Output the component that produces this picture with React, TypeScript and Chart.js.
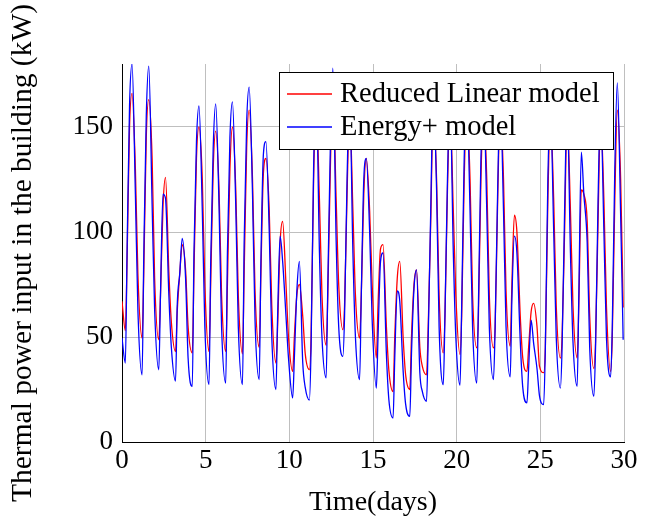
import React, { useEffect, useRef } from "react";
import { Chart, registerables } from "chart.js";

Chart.register(...registerables);

// Sample positions within each day (fraction of the day)
const dayOffsets = [0.2, 0.3, 0.45, 0.6, 0.8, 0.95];
const xTicks = [0, 5, 10, 15, 20, 25, 30];
const yTicks = [0, 50, 100, 150];

const seriesLabels = ["Reduced Linear model", "Energy+ model"];

// Value at t = 0
const reducedStart = 67;
const energyStart = 49.5;

// Reduced Linear model (kW), one row per day, samples at dayOffsets
const reducedLinear = [
  53, 85, 150, 166, 130, 80,
  49.5, 80, 145, 163, 135, 78,
  48.7, 70, 112, 126, 81, 57,
  43, 62, 80, 94, 82, 55,
  42.4, 80, 135, 150, 125, 75,
  43, 75, 130, 148, 120, 70,
  43, 75, 130, 150, 120, 70,
  42, 80, 140, 158, 125, 72,
  45, 80, 128, 135, 110, 65,
  37.6, 55, 95, 105, 75, 50,
  33.6, 50, 70, 75, 60, 42,
  34.4, 50, 125, 160, 115, 70,
  46, 70, 130, 168, 115, 75,
  53.5, 65, 118, 158, 110, 70,
  49.5, 70, 118, 135, 110, 75,
  40, 65, 92, 94, 55, 34,
  24, 50, 78, 86, 50, 32,
  25, 50, 75, 82, 45, 36,
  32, 55, 105, 158, 125, 70,
  42.4, 60, 120, 158, 110, 70,
  41.6, 60, 125, 158, 125, 70,
  44.8, 60, 125, 158, 125, 70,
  44.8, 55, 115, 158, 125, 72,
  45.6, 75, 108, 100, 60, 40,
  33.6, 45, 62, 66, 55, 36,
  33, 45, 115, 155, 115, 65,
  40, 50, 100, 155, 110, 65,
  40, 65, 120, 118, 105, 60,
  35, 48, 105, 155, 115, 65,
  33.6, 50, 115, 158, 125, 64,
];

// Energy+ model (kW), one row per day, samples at dayOffsets
const energyPlus = [
  37.6, 89, 160, 180, 118, 63,
  32, 88, 155, 179, 113, 63,
  34.4, 70, 118, 116, 70, 45,
  29, 65, 80, 97, 78, 40,
  26.5, 90, 143, 160, 110, 55,
  27.3, 85, 140, 161, 112, 55,
  28, 90, 145, 162, 112, 55,
  27.3, 95, 152, 169, 118, 58,
  29.7, 85, 137, 143, 100, 50,
  25, 60, 98, 86, 60, 40,
  21, 40, 72, 86, 38, 26,
  20, 45, 130, 168, 90, 50,
  30.5, 75, 140, 178, 95, 55,
  40.8, 60, 125, 165, 90, 50,
  29.7, 70, 125, 135, 100, 58,
  25.7, 50, 86, 90, 42, 20,
  11.4, 40, 72, 67, 34, 18,
  12.2, 42, 73, 82, 33, 24,
  19.4, 50, 110, 165, 120, 55,
  27.3, 60, 125, 165, 90, 50,
  27, 65, 135, 165, 110, 55,
  28, 65, 135, 165, 110, 55,
  29.7, 55, 120, 165, 110, 55,
  31, 68, 98, 90, 48, 26,
  18.6, 35, 58, 47, 35, 22,
  17.8, 45, 125, 160, 100, 50,
  25.7, 45, 110, 160, 90, 48,
  26.5, 70, 138, 118, 95, 45,
  21.7, 45, 115, 160, 100, 50,
  31, 55, 130, 171, 108, 48.7,
];

function buildPoints(start: number, values: number[]) {
  const pts: { x: number; y: number }[] = [{ x: 0, y: start }];
  const perDay = dayOffsets.length;
  for (let i = 0; i < values.length; i++) {
    const day = Math.floor(i / perDay);
    const off = dayOffsets[i % perDay];
    pts.push({ x: day + off, y: values[i] });
  }
  return pts;
}

const FONT = "'Liberation Serif', 'Times New Roman', serif";
const RED = "#ff0000";
const BLUE = "#0000ff";

const boxLegend = {
  id: "boxLegend",
  afterDraw(chart: any) {
    const { ctx, chartArea } = chart;
    const w = 334;
    const h = 77;
    const left = Math.round(chartArea.right - 11 - w);
    const top = Math.round(chartArea.top + 8);
    ctx.save();
    ctx.fillStyle = "#ffffff";
    ctx.fillRect(left, top, w, h);
    ctx.strokeStyle = "#000000";
    ctx.lineWidth = 1;
    ctx.strokeRect(left + 0.5, top + 0.5, w, h);
    const colors = [RED, BLUE];
    const lineYs = [top + 22, top + 55];
    const baseYs = [top + 30, top + 63];
    ctx.font = `28.5px ${FONT}`;
    ctx.textBaseline = "alphabetic";
    ctx.textAlign = "left";
    for (let i = 0; i < 2; i++) {
      ctx.strokeStyle = colors[i];
      ctx.lineWidth = 1.3;
      ctx.beginPath();
      ctx.moveTo(left + 8, lineYs[i]);
      ctx.lineTo(left + 53, lineYs[i]);
      ctx.stroke();
      ctx.fillStyle = "#000000";
      ctx.fillText(seriesLabels[i], left + 61, baseYs[i]);
    }
    ctx.restore();
  },
};

export default function App() {
  const ref = useRef<HTMLCanvasElement | null>(null);

  useEffect(() => {
    if (!ref.current) return;
    const chart = new Chart(ref.current, {
      type: "line",
      data: {
        datasets: [
          {
            label: seriesLabels[0],
            data: buildPoints(reducedStart, reducedLinear),
            borderColor: RED,
            backgroundColor: RED,
            borderWidth: 1.3,
            pointRadius: 0,
            cubicInterpolationMode: "monotone",
            order: 1,
          },
          {
            label: seriesLabels[1],
            data: buildPoints(energyStart, energyPlus),
            borderColor: BLUE,
            backgroundColor: BLUE,
            borderWidth: 1.3,
            pointRadius: 0,
            cubicInterpolationMode: "monotone",
            order: 0,
          },
        ],
      },
      options: {
        animation: false,
        responsive: false,
        maintainAspectRatio: false,
        parsing: false as any,
        layout: { padding: { left: 0, top: 64, right: 32, bottom: 0 } },
        plugins: {
          legend: { display: false },
          tooltip: { enabled: false },
        },
        scales: {
          x: {
            type: "linear",
            min: 0,
            max: 30,
            afterBuildTicks: (s: any) => {
              s.ticks = xTicks.map((v) => ({ value: v }));
            },
            afterFit: (s: any) => {
              s.height = 77;
            },
            grid: { color: "#bfbfbf", lineWidth: 1, drawTicks: false },
            border: { color: "#000000", width: 1 },
            ticks: {
              color: "#000000",
              font: { family: FONT, size: 27 },
              padding: 3,
              maxRotation: 0,
              autoSkip: false,
            },
            title: {
              display: true,
              text: "Time(days)",
              color: "#000000",
              font: { family: FONT, size: 28 },
              padding: { top: 0, bottom: 0 },
            },
          },
          y: {
            type: "linear",
            min: 0,
            max: 180,
            afterBuildTicks: (s: any) => {
              s.ticks = yTicks.map((v) => ({ value: v }));
            },
            afterFit: (s: any) => {
              s.width = 122;
            },
            grid: { color: "#bfbfbf", lineWidth: 1, drawTicks: false },
            border: { color: "#000000", width: 1 },
            ticks: {
              color: "#000000",
              font: { family: FONT, size: 27 },
              padding: 9,
              autoSkip: false,
            },
            title: {
              display: true,
              text: "Thermal power input in the building (kW)",
              color: "#000000",
              font: { family: FONT, size: 29.5 },
              padding: { top: 6, bottom: 0 },
            },
          },
        },
      },
      plugins: [boxLegend],
    } as any);
    return () => chart.destroy();
  }, []);

  return (
    <div style={{ position: "absolute", left: 0, top: 0, width: 656, height: 519, background: "#fff" }}>
      <canvas ref={ref} width={656} height={519} style={{ display: "block", width: 656, height: 519 }} />
    </div>
  );
}
